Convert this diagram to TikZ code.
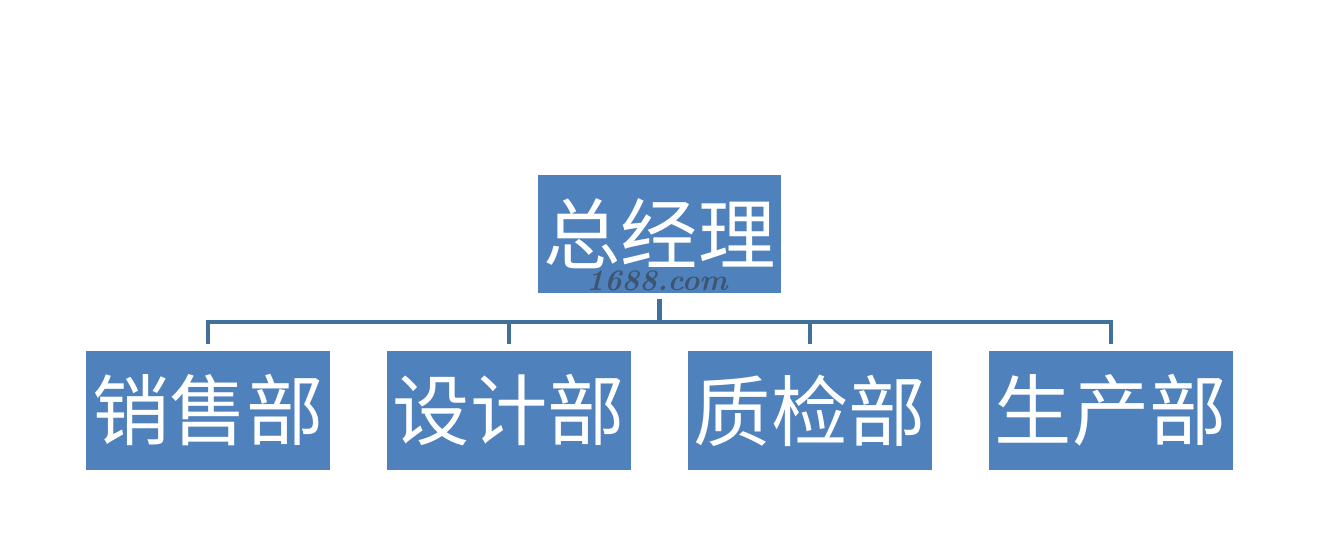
\documentclass[tikz,border=0pt]{standalone}
\usepackage{fontspec}
\newfontfamily\cjk{Noto Sans CJK SC}
\usepackage{tikz}
\usetikzlibrary{
  positioning,
  calc,
}
\definecolor{deptBlue}{HTML}{4F81BD}
\definecolor{lineBlue}{HTML}{41709C}
\definecolor{markGray}{HTML}{3A4A5E}
\tikzset{
  deptbox/.style={
    rectangle, draw=none, fill=deptBlue, text=white,
    minimum width=2.44cm, minimum height=1.19cm, inner sep=0pt,
    font=\cjk\fontsize{22}{26}\selectfont, align=center,
  },
  busline/.style={
    draw=lineBlue, line width=1.15pt, line cap=rect,
  },
  stub/.style={
    busline, line cap=butt,
  },
}

\begin{document}
\begin{tikzpicture}[node distance=5mm and 5.55mm]
\useasboundingbox (0,0) rectangle (13.18,-5.53);

\node[deptbox, minimum width=2.43cm, minimum height=1.18cm] (gm) at (6.595,-2.34) {总经理};
\node[font=\itshape\bfseries\fontsize{8.5}{10}\selectfont, text=markGray, opacity=0.8]
  (mark) at (6.57,-2.81) {1688.com};

\node[deptbox] (sales) at (2.08,-4.105) {销售部};
\node[deptbox, right=of sales] (design) {设计部};
\node[deptbox, right=of design] (qc) {质检部};
\node[deptbox, right=of qc] (prod) {生产部};

% bus line between the two rows
\coordinate (bus) at (6.595,-3.22);
\draw[stub, shorten <=0.5mm] (gm.south) -- (gm.south |- bus);
\draw[busline] (sales.north |- bus) -- (prod.north |- bus);
\foreach \d in {sales, design, qc, prod}
  \draw[stub, shorten >=0.6mm] (\d.north |- bus) -- (\d.north);

\end{tikzpicture}
\end{document}
